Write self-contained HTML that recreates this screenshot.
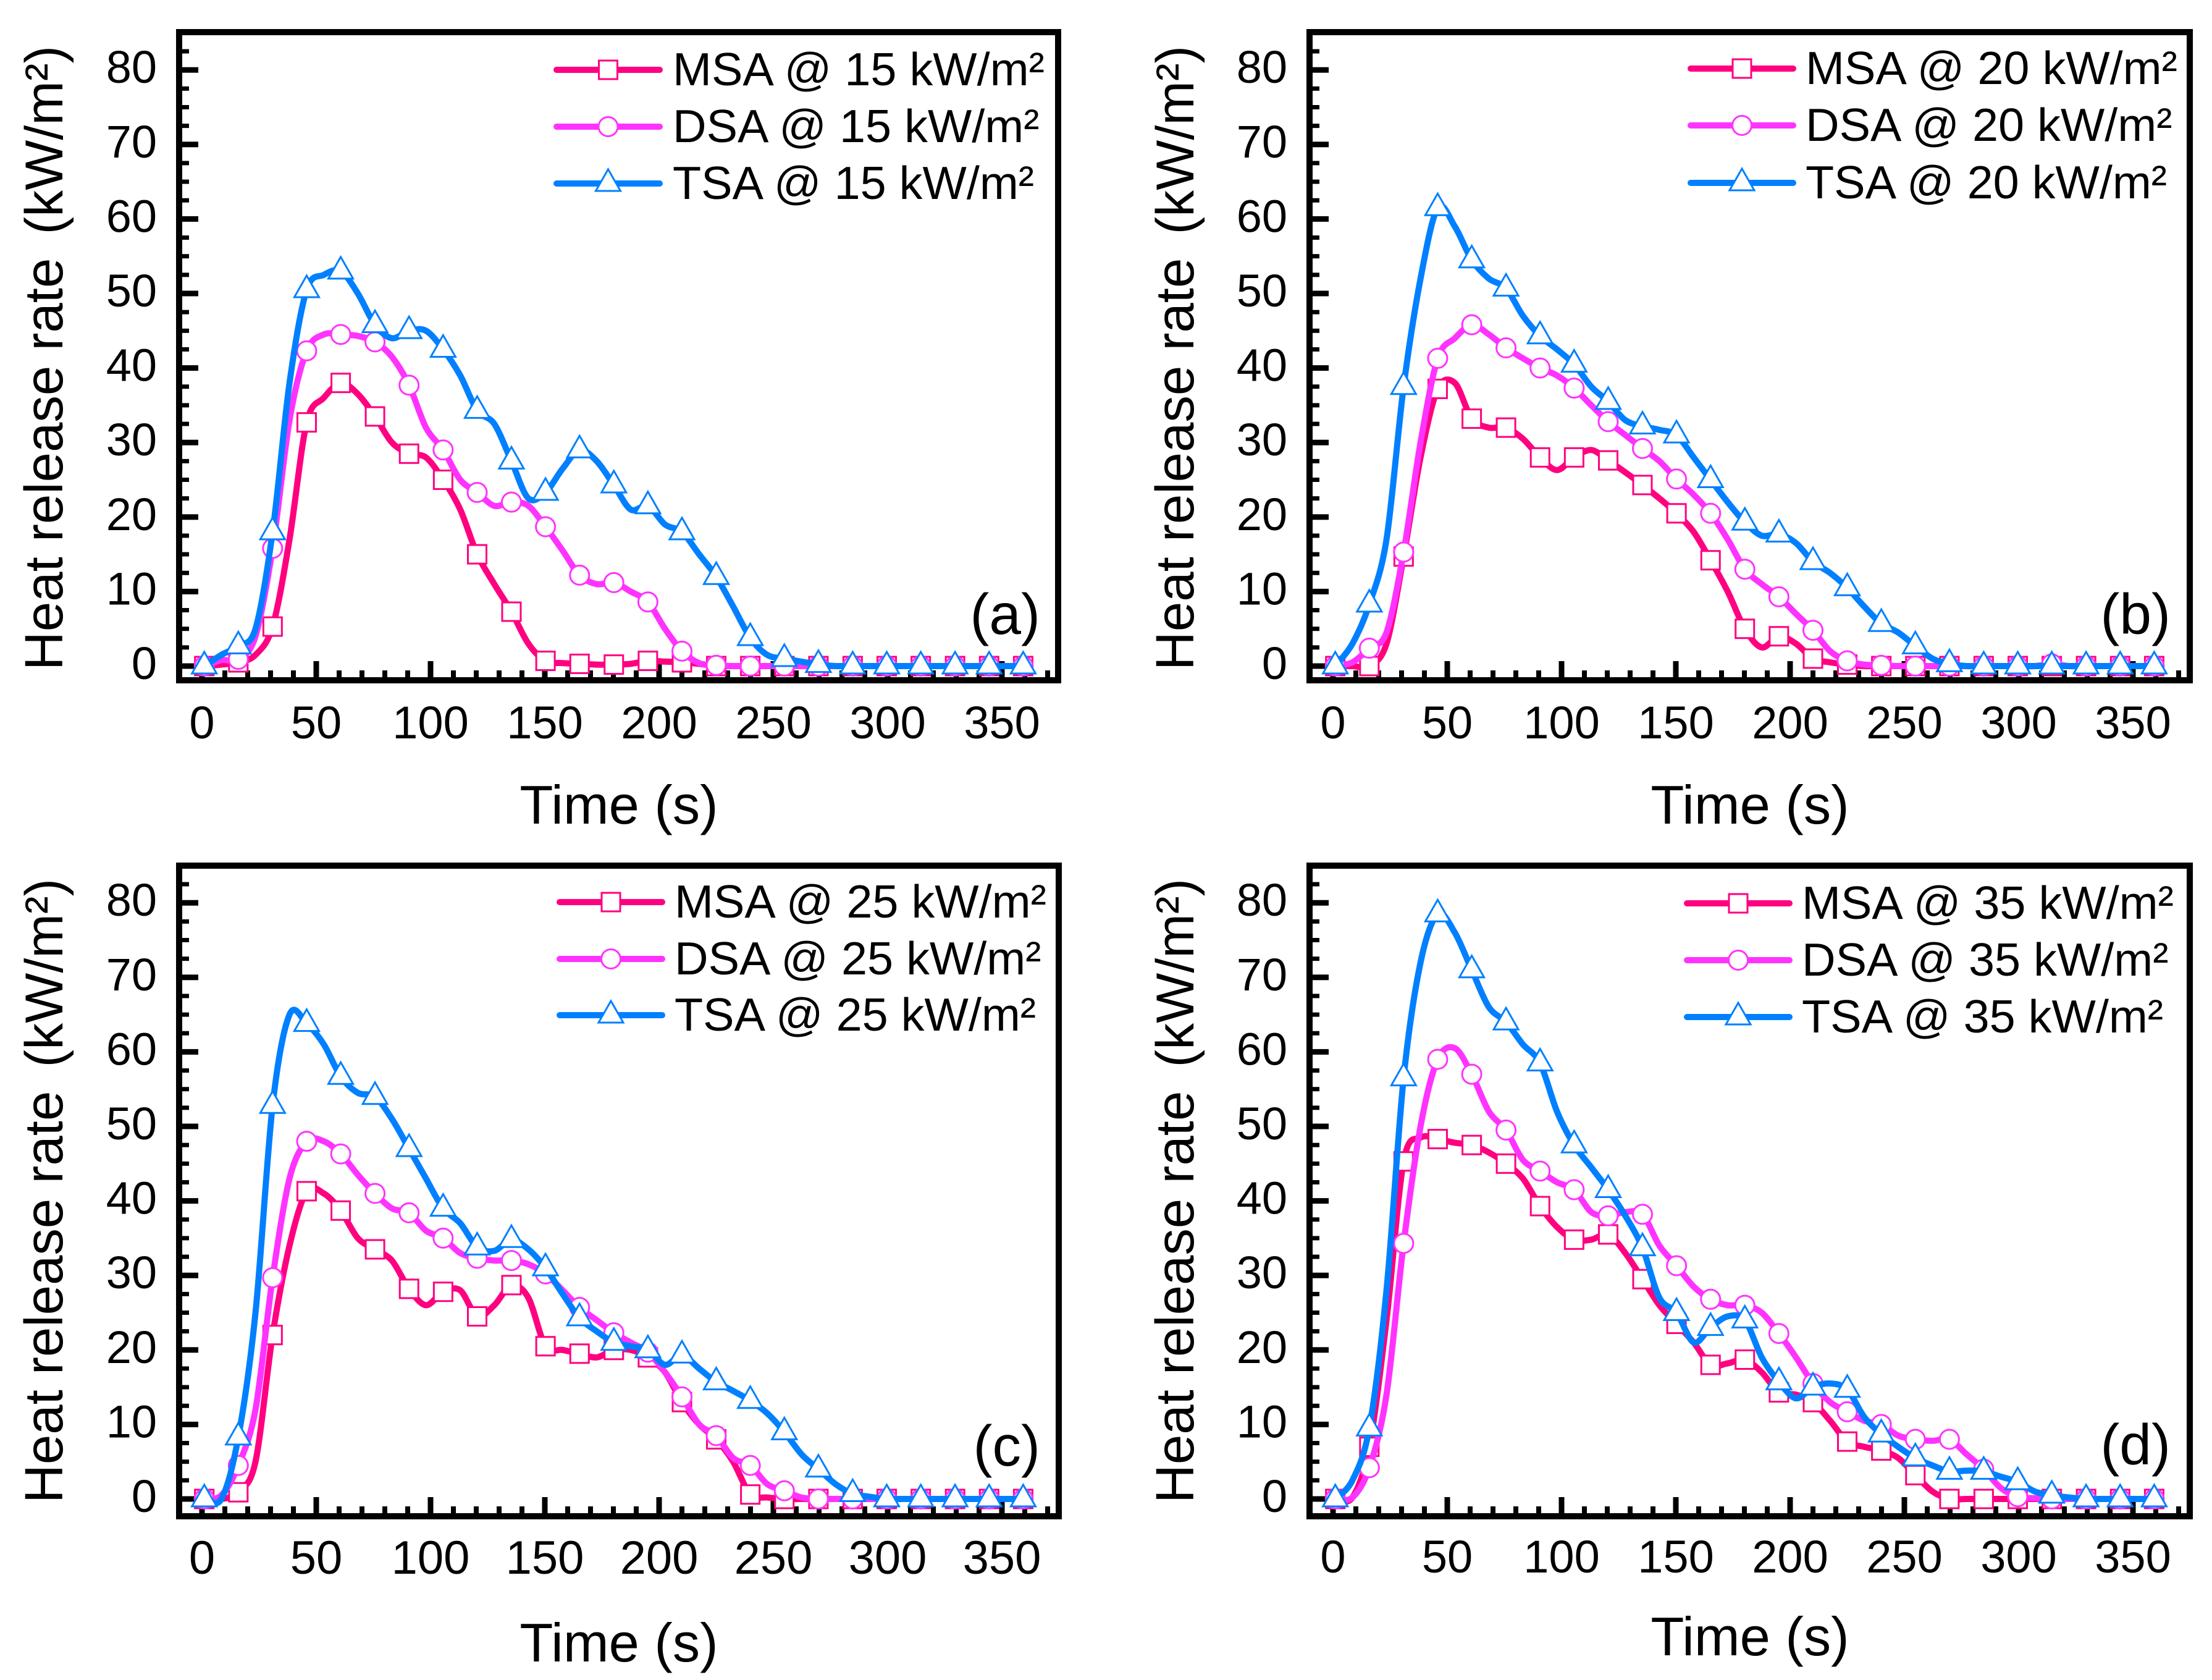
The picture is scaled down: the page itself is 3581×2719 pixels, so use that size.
<!DOCTYPE html>
<html lang="en">
<head>
<meta charset="utf-8">
<title>Heat release rate panels</title>
<style>
html,body{margin:0;padding:0;background:#fff;}
svg{display:block;}
text{font-family:"Liberation Sans",Arial,sans-serif;fill:#000;}
</style>
</head>
<body>
<svg id="figure" xmlns="http://www.w3.org/2000/svg" width="3581" height="2719" viewBox="0 0 3581 2719"></svg>
<script>
const timeGrid = [1,8.5,15.9,23.4,30.9,38.3,45.8,53.3,60.7,68.2,75.7,83.1,90.6,98,105.5,113,120.4,127.9,135.4,142.8,150.3,157.8,165.2,172.7,180.2,187.6,195.1,202.6,210,217.5,225,232.4,239.9,247.3,254.8,262.3,269.7,277.2,284.7,292.1,299.6,307.1,314.5,322,329.5,336.9,344.4,351.9,359.3];

const msa15 = [0,.2,.5,1.5,5.3,17,32.7,36,38,36.5,33.5,30,28.5,28,25,21,15,11,7.3,3,.7,.4,.3,.2,.2,.3,.7,.6,.5,.3,0,0,0,0,0,0,0,0,0,0,0,0,0,0,0,0,0,0,0];
const dsa15 = [0,.8,.9,4,15.8,33,42.3,44.5,44.5,44.3,43.5,41.5,37.7,32,29,25,23.3,21.5,22,21.5,18.7,15.5,12.2,11,11.2,10,8.6,5,2,.4,.1,0,0,0,0,0,0,0,0,0,0,0,0,0,0,0,0,0,0];
const tsa15 = [0,1.5,2.7,5,18,38,50.5,52.5,53,50,45.8,44,45,45,42.5,39,34.3,32.5,27.5,22.5,23.3,26.5,29,27.5,24.3,21,21.5,19,18,15,12,8,3.8,1.5,1,.6,.2,0,0,0,0,0,0,0,0,0,0,0,0];

const msa20 = [0,0,0,3,14.7,28,37.2,38,33.2,32,32,30.5,28,26.3,28,29,27.6,26,24.3,22.5,20.5,18,14.2,10,5,2.5,4,3,1,.5,.2,0,0,0,0,0,0,0,0,0,0,0,0,0,0,0,0,0,0];
const dsa20 = [0,.5,2.4,4.5,15.3,30,41.3,44,45.8,44.5,42.7,41.3,40,39,37.3,35,32.8,31,29.2,27.5,25.1,23,20.5,17,13,11,9.3,7,4.8,2,.7,.2,.1,0,0,0,0,0,0,0,0,0,.3,0,0,0,0,0,0];
const tsa20 = [0,3,8.3,17,37.5,52,61.5,59,54.5,52,50.7,47,44.3,42.5,40.5,37.5,35.5,33,32.2,31.7,31,28,25,22,19.3,17.5,17.7,16.5,14,12.5,10.5,8,5.7,4.5,2.7,1,.3,0,0,0,0,0,0,0,0,0,0,0,0];

const msa25 = [0,0,.9,5,22,34,41.3,41,38.7,35,33.5,32,28.2,26,27.8,28,24.5,26,28.7,27,20.5,20,19.5,19,20,20,19,17,13,10,8,5,.6,.2,0,0,0,0,0,0,0,0,0,0,0,0,0,0,0];
const dsa25 = [0,.5,4.5,12,29.7,43,48,48,46.3,43.5,41,39,38.4,36,35,33,32.3,32,32,31.5,30.2,28,25.7,24,22.3,21,19.7,17,13.7,10,8.5,5.5,4.5,2,1.1,.2,0,0,0,0,0,0,0,0,0,0,0,0,0];
const tsa25 = [0,0,8.3,25,52.8,65,63.8,61,56.7,54.5,54,51,47,43,39,37,33.8,33.3,34.8,33.5,31,27.5,24.3,22.5,21,20.5,20,18,19.3,17.5,15.7,14.5,13.2,11.5,9,6,4,2,.7,.3,0,0,0,0,0,0,0,0,0];

const msa35 = [0,.2,7,24,45.3,48.5,48.3,47.8,47.5,46.5,45,43,39.3,36.5,34.8,34.8,35.5,33,29.5,26,23.5,21,18,18.2,18.7,17,14.3,14,13,10.5,7.7,7,6.5,5.5,3.2,1,0,0,0,0,0,0,0,0,0,0,0,0,0];
const dsa35 = [0,.2,4.2,14,34.3,50,59,60.5,57,52,49.5,45.5,44,42.5,41.5,38.5,38,38.5,38.2,34,31.3,28.5,26.8,26,26,25,22.2,19,15.5,13,11.7,10.5,10,8.5,8,7.8,8,6,4,1.5,.3,.1,0,0,0,0,0,0,0];
const tsa35 = [0,2.5,9.5,28,56.5,72,78.5,76,71,66,64,61,58.5,52,47.5,44.5,41.5,38,33.7,27,25,21,23,24.5,24,19,15.7,13.5,15,15.5,14.7,11,8.7,7,5.5,4.5,3.7,3.8,3.7,3,2.3,1,.5,.2,0,0,0,0,0];

const xTickLabels = [0,50,100,150,200,250,300,350];
const yTickLabels = [0,10,20,30,40,50,60,70,80];
const xMinorTicks = [10,20,30,40,60,70,80,90,110,120,130,140,160,170,180,190,210,220,230,240,260,270,280,290,310,320,330,340,360,370];
const yMinorTicks = [2.5,5,7.5,12.5,15,17.5,22.5,25,27.5,32.5,35,37.5,42.5,45,47.5,52.5,55,57.5,62.5,65,67.5,72.5,75,77.5,82.5];

const seriesColors = ['#ff0080','#ff33ff','#0080ff'];
const seriesKinds = ['square','circle','triangle'];
const seriesKeys = ['msa','dsa','tsa'];

const panels = [
  {id:'a',label:'(a)',series:[msa15,dsa15,tsa15],names:['MSA @ 15 kW/m²','DSA @ 15 kW/m²','TSA @ 15 kW/m²'],
   l:290,r:1713,t:52,b:1101,x0:327,y0:1078,titleX:101,xTitleX:1002,xTitleY:1333,xLabelY:1195,xFont:74,labelX:1684,labelY:1026,
   legX1:896,legX2:1073,legY:[111,203,295],legTx:1089},
  {id:'b',label:'(b)',series:[msa20,dsa20,tsa20],names:['MSA @ 20 kW/m²','DSA @ 20 kW/m²','TSA @ 20 kW/m²'],
   l:2120,r:3545,t:52,b:1101,x0:2158,y0:1078,titleX:1932,xTitleX:2833,xTitleY:1333,xLabelY:1195,xFont:74,labelX:3514,labelY:1026,
   legX1:2732,legX2:2908,legY:[109,201,294],legTx:2923},
  {id:'c',label:'(c)',series:[msa25,dsa25,tsa25],names:['MSA @ 25 kW/m²','DSA @ 25 kW/m²','TSA @ 25 kW/m²'],
   l:290,r:1714,t:1401,b:2454,x0:327,y0:2426,titleX:101,xTitleX:1002,xTitleY:2689,xLabelY:2547,xFont:76,labelX:1684,labelY:2372,
   legX1:901,legX2:1077,legY:[1458,1550,1641],legTx:1092},
  {id:'d',label:'(d)',series:[msa35,dsa35,tsa35],names:['MSA @ 35 kW/m²','DSA @ 35 kW/m²','TSA @ 35 kW/m²'],
   l:2120,r:3545,t:1401,b:2454,x0:2158,y0:2426,titleX:1932,xTitleX:2833,xTitleY:2679,xLabelY:2545,xFont:74,labelX:3514,labelY:2370,
   legX1:2726,legX2:2902,legY:[1460,1552,1644],legTx:2917}
];

const svg = document.getElementById('figure');
const NS = 'http://www.w3.org/2000/svg';
const X_SCALE = 3.7;
const Y_SCALE = 12.06;

function make(tag, attrs, parent) {
  const el = document.createElementNS(NS, tag);
  for (const k in attrs) el.setAttribute(k, attrs[k]);
  parent.appendChild(el);
  return el;
}

function smoothPath(pts) {
  let d = 'M' + pts[0][0].toFixed(1) + ' ' + pts[0][1].toFixed(1);
  const k = 0.16;
  for (let i = 0; i < pts.length - 1; i++) {
    const p0 = pts[Math.max(0, i - 1)], p1 = pts[i], p2 = pts[i + 1], p3 = pts[Math.min(pts.length - 1, i + 2)];
    const c1x = p1[0] + (p2[0] - p0[0]) * k, c1y = p1[1] + (p2[1] - p0[1]) * k;
    const c2x = p2[0] - (p3[0] - p1[0]) * k, c2y = p2[1] - (p3[1] - p1[1]) * k;
    d += 'C' + c1x.toFixed(1) + ' ' + c1y.toFixed(1) + ' ' + c2x.toFixed(1) + ' ' + c2y.toFixed(1) + ' ' + p2[0].toFixed(1) + ' ' + p2[1].toFixed(1);
  }
  return d;
}

function drawMarker(kind, cx, cy, color, parent) {
  let el;
  if (kind === 'square') {
    el = make('rect', {x: cx - 15, y: cy - 15, width: 30, height: 30, fill: '#fff', stroke: color, 'stroke-width': 3}, parent);
  } else if (kind === 'circle') {
    el = make('circle', {cx: cx, cy: cy, r: 15.5, fill: '#fff', stroke: color, 'stroke-width': 3}, parent);
  } else {
    el = make('polygon', {points: (cx) + ',' + (cy - 23) + ' ' + (cx + 20) + ',' + (cy + 12) + ' ' + (cx - 20) + ',' + (cy + 12), fill: '#fff', stroke: color, 'stroke-width': 3}, parent);
  }
  return el;
}

panels.forEach(function (p) {
  const xPos = function (t) { return p.x0 + X_SCALE * t; };
  const yPos = function (v) { return p.y0 - Y_SCALE * v; };

  const g = make('g', {}, svg);
  
  

  // ticks (inward)
  xMinorTicks.forEach(function (t) {
    const tick = make('rect', {x: xPos(t) - 4, y: p.b - 16, width: 8, height: 16, fill: '#000'}, g);
    
    
  });
  yMinorTicks.forEach(function (v) {
    const tick = make('rect', {x: p.l, y: yPos(v) - 3.5, width: 16, height: 7, fill: '#000'}, g);
    
    
  });
  xTickLabels.forEach(function (t) {
    const tick = make('rect', {x: xPos(t) - 4.5, y: p.b - 31, width: 9, height: 31, fill: '#000'}, g);
    
    
    const lab = make('text', {x: xPos(t), y: p.xLabelY, 'font-size': p.xFont, 'text-anchor': 'middle'}, g);
    lab.textContent = String(t);
    
    
  });
  yTickLabels.forEach(function (v) {
    const tick = make('rect', {x: p.l, y: yPos(v) - 4.5, width: 31, height: 9, fill: '#000'}, g);
    
    
    const lab = make('text', {x: p.l - 36, y: yPos(v) + 21, 'font-size': 74, 'text-anchor': 'end'}, g);
    lab.textContent = String(v);
    
    
  });

  // series
  p.series.forEach(function (values, si) {
    const color = seriesColors[si];
    const sg = make('g', {}, g);
    
    
    const pts = values.map(function (v, i) { return [xPos(timeGrid[i]), yPos(v)]; });
    const line = make('path', {d: smoothPath(pts), fill: 'none', stroke: color, 'stroke-width': 10, 'stroke-linejoin': 'round', 'stroke-linecap': 'round'}, sg);
    
    
    values.forEach(function (v, i) {
      if (i % 2 !== 0) return;
      const m = drawMarker(seriesKinds[si], xPos(timeGrid[i]), yPos(v), color, sg);
      
      
    });
  });

  // frame
  const frame = make('rect', {x: p.l, y: p.t, width: p.r - p.l, height: p.b - p.t, fill: 'none', stroke: '#000', 'stroke-width': 10}, g);
  
  

  // axis titles
  const xt = make('text', {x: p.xTitleX, y: p.xTitleY, 'font-size': 88.5, 'text-anchor': 'middle'}, g);
  xt.textContent = 'Time (s)';
  
  

  const yt = make('text', {x: 0, y: 0, 'font-size': 87, transform: 'translate(' + p.titleX + ' ' + (p.y0 + 7) + ') rotate(-90)'}, g);
  yt.appendChild(document.createTextNode('Heat release rate '));
  
  
  const ytUnit = make('tspan', {dx: 14, 'font-size': 86}, yt);
  ytUnit.textContent = '(kW/m²)';
  
  

  // panel letter
  const pl = make('text', {x: p.labelX, y: p.labelY, 'font-size': 93, 'text-anchor': 'end'}, g);
  pl.textContent = p.label;
  
  

  // legend
  const lg = make('g', {}, g);
  
  
  p.names.forEach(function (name, si) {
    const color = seriesColors[si];
    const y = p.legY[si];
    const entry = make('g', {}, lg);
    
    
    const ll = make('line', {x1: p.legX1 + 5, x2: p.legX2 - 5, y1: y + 2, y2: y + 2, stroke: color, 'stroke-width': 10, 'stroke-linecap': 'round'}, entry);
    
    
    const mk = drawMarker(seriesKinds[si], (p.legX1 + p.legX2) / 2, y + 2, color, entry);
    
    
    const tx = make('text', {x: p.legTx, y: y + 27, 'font-size': 75.6}, entry);
    tx.textContent = name;
    
    
  });
});
</script>
</body>
</html>
